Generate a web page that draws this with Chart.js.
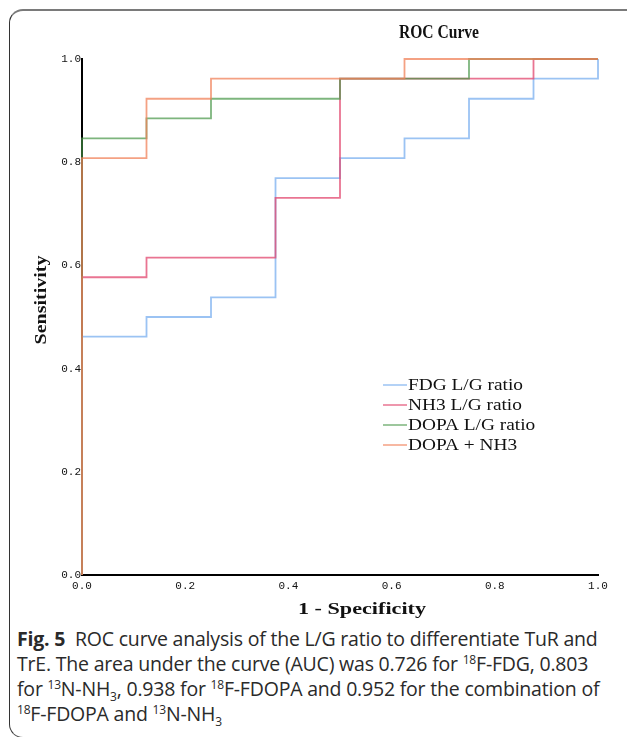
<!DOCTYPE html>
<html>
<head>
<meta charset="utf-8">
<script src="https://cdn.jsdelivr.net/npm/chart.js@4/dist/chart.umd.min.js"></script>
<style>
  html, body { margin:0; padding:0; background:#fff; width:627px; height:737px; overflow:hidden; }
  #frame { position:absolute; left:9px; top:9px; width:640px; height:729px; box-sizing:border-box;
           border-top:2px solid #7a7a7a; border-left:1.5px solid #333; border-bottom:1px solid #555;
           border-top-left-radius:14px; border-bottom-left-radius:14px; }
  #chart { position:absolute; left:0; top:0; }
  #caption { position:absolute; left:17px; top:626px; font-family:"Open Sans", sans-serif; font-size:19.5px;
             line-height:25px; color:#2a2a2a; white-space:nowrap; letter-spacing:-0.2px; }
  #caption sup, #caption sub { font-size:12px; line-height:0; }
  #caption b { font-weight:700; }
</style>
</head>
<body>
<div id="frame"></div>
<canvas id="chart" width="627" height="625"></canvas>
<div id="caption">
<b>Fig. 5</b>&nbsp; ROC curve analysis of the L/G ratio to differentiate TuR and<br>
TrE. The area under the curve (AUC) was 0.726 for <sup>18</sup>F-FDG, 0.803<br>
for <sup>13</sup>N-NH<sub>3</sub>, 0.938 for <sup>18</sup>F-FDOPA and 0.952 for the combination of<br>
<sup>18</sup>F-FDOPA and <sup>13</sup>N-NH<sub>3</sub>
</div>
<script>
// ---- data ----
const seriesLabels = ['FDG L/G ratio', 'NH3 L/G ratio', 'DOPA L/G ratio', 'DOPA + NH3'];

const fdgFPR   = [0, 0,     0.125, 0.25,  0.375, 0.5,   0.625, 0.75,  0.875, 1];
const fdgTPR   = [0, 0.462, 0.500, 0.538, 0.769, 0.808, 0.846, 0.923, 0.962, 1];

const nh3FPR   = [0, 0,     0.125, 0.375, 0.5,   0.875, 1];
const nh3TPR   = [0, 0.577, 0.615, 0.731, 0.962, 1,     1];

const dopaFPR  = [0, 0,     0.125, 0.25,  0.5,   0.75, 1];
const dopaTPR  = [0, 0.846, 0.885, 0.923, 0.962, 1,    1];

const comboFPR = [0, 0,     0.125, 0.25,  0.625, 1];
const comboTPR = [0, 0.808, 0.923, 0.962, 1,     1];

const axisTicks = [0, 0.2, 0.4, 0.6, 0.8, 1.0];

const chartTitle = 'ROC Curve';
const xTitle = '1 - Specificity';
const yTitle = 'Sensitivity';

// ---- build ----
const pts = (xs, ys) => xs.map((x, i) => ({ x: x, y: ys[i] }));
const colors = ['rgba(130,180,240,0.8)', 'rgba(225,70,110,0.75)', 'rgba(70,150,70,0.7)', 'rgba(240,130,90,0.75)'];
const drawOrder = [3, 2, 1, 0];
const seriesData = [pts(fdgFPR, fdgTPR), pts(nh3FPR, nh3TPR), pts(dopaFPR, dopaTPR), pts(comboFPR, comboTPR)];

function drawFit(ctx, text, cx, cy, font, width, rot) {
  ctx.save();
  ctx.translate(cx, cy);
  if (rot) ctx.rotate(rot);
  ctx.font = font;
  const m = ctx.measureText(text).width;
  ctx.scale(width / m, 1);
  ctx.textAlign = 'center';
  ctx.textBaseline = 'middle';
  ctx.fillText(text, 0, 0);
  ctx.restore();
}

const overlay = {
  id: 'overlay',
  afterDraw(chart) {
    const ctx = chart.ctx;
    ctx.save();
    ctx.fillStyle = '#111';
    drawFit(ctx, chartTitle, 439, 33, 'bold 18px "Liberation Serif"', 80);
    drawFit(ctx, xTitle, 362, 610, 'bold 17px "Liberation Serif"', 128);
    drawFit(ctx, yTitle, 42, 300, 'bold 17px "Liberation Serif"', 89, -Math.PI / 2);
    // legend
    ctx.font = '17px "Liberation Serif"';
    const sx = 115 / ctx.measureText(seriesLabels[0]).width;
    chart.data.datasets.forEach((ds, i) => {
      const y = 385 + i * 20;
      ctx.strokeStyle = ds.borderColor;
      ctx.lineWidth = 1.5;
      ctx.beginPath(); ctx.moveTo(383, y); ctx.lineTo(407, y); ctx.stroke();
      ctx.save();
      ctx.translate(408, y);
      ctx.scale(sx, 1);
      ctx.textAlign = 'left';
      ctx.textBaseline = 'middle';
      ctx.fillStyle = '#111';
      ctx.fillText(ds.label, 0, 1);
      ctx.restore();
    });
    ctx.restore();
  }
};

const tickFont = { family: '"Liberation Mono", monospace', size: 11 };

new Chart(document.getElementById('chart'), {
  type: 'scatter',
  data: {
    datasets: seriesLabels.map((lab, i) => ({
      label: lab,
      data: seriesData[i],
      order: drawOrder[i],
      showLine: true,
      stepped: 'before',
      borderColor: colors[i],
      backgroundColor: colors[i],
      borderWidth: 1.8,
      pointRadius: 0,
      pointHoverRadius: 0,
      tension: 0,
      clip: false
    }))
  },
  options: {
    responsive: false,
    animation: false,
    devicePixelRatio: 1,
    layout: { padding: { left: 0, top: 59, right: 29, bottom: 0 } },
    plugins: { legend: { display: false }, tooltip: { enabled: false }, title: { display: false } },
    scales: {
      x: {
        type: 'linear', min: 0, max: 1,
        afterFit: s => { s.height = 50; },
        afterBuildTicks: s => { s.ticks = axisTicks.map(v => ({ value: v })); },
        grid: { display: false, drawTicks: false },
        border: { display: true, color: '#000', width: 2 },
        ticks: { font: tickFont, color: '#111', padding: 4, maxRotation: 0, callback: v => Number(v).toFixed(1) }
      },
      y: {
        type: 'linear', min: 0, max: 1,
        afterFit: s => { s.width = 82; },
        afterBuildTicks: s => { s.ticks = axisTicks.map(v => ({ value: v })); },
        grid: { display: false, drawTicks: false },
        border: { display: true, color: '#000', width: 2 },
        ticks: { font: tickFont, color: '#111', padding: 1, callback: v => Number(v).toFixed(1) }
      }
    }
  },
  plugins: [overlay]
});
</script>
</body>
</html>
